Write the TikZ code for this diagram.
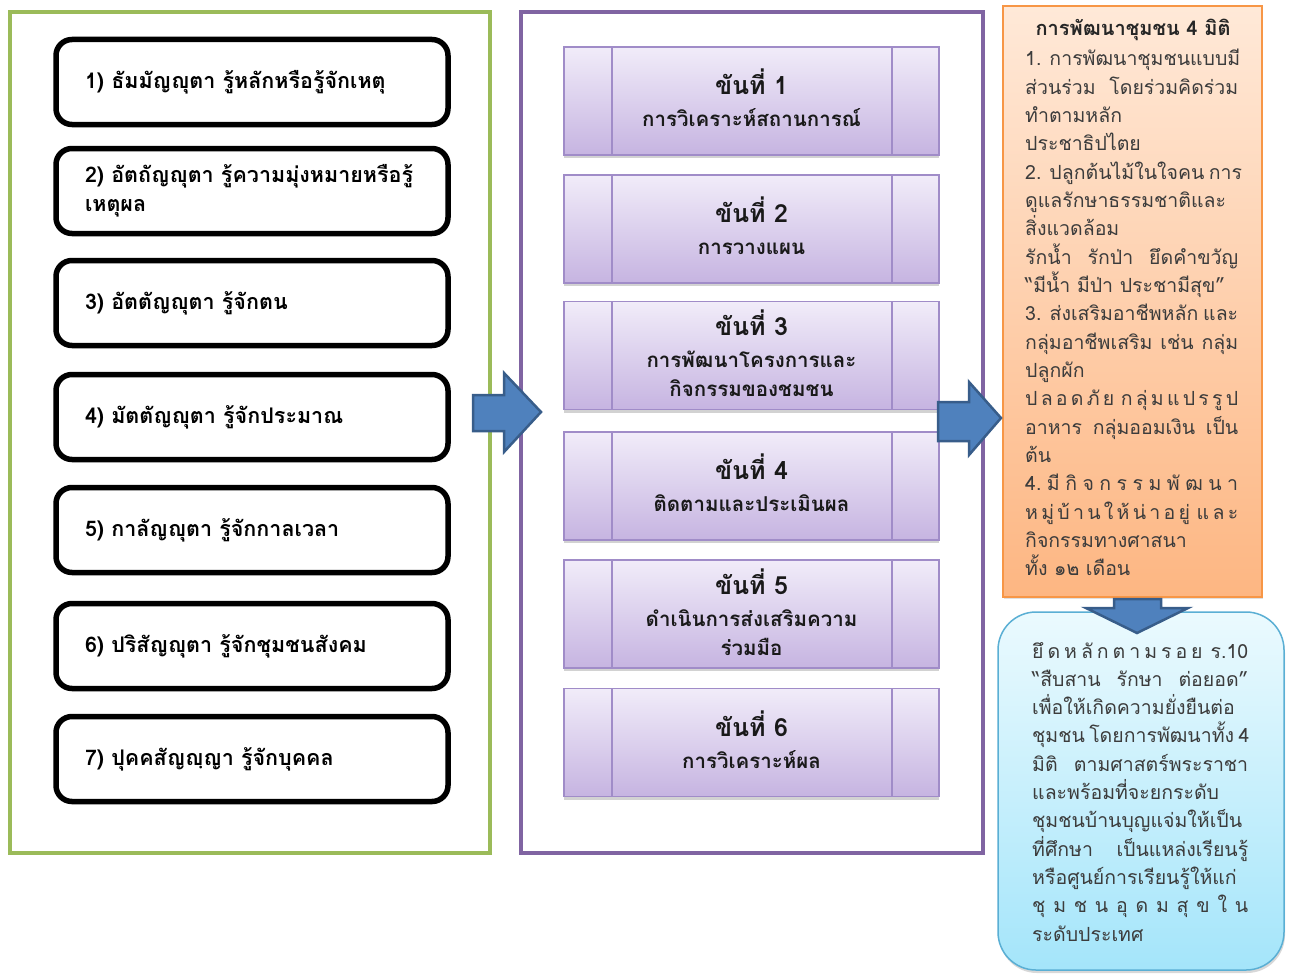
\documentclass[tikz,border=0pt]{standalone}
\usepackage{fontspec}
\setmainfont[Script=Thai]{Loma}
\usetikzlibrary{shadows}
\definecolor{gfr}{HTML}{9BBB59}
\definecolor{pfr}{HTML}{8064A2}
\definecolor{arrf}{HTML}{4F81BD}
\definecolor{arrd}{HTML}{385D8A}
\definecolor{stepbd}{HTML}{A08CC8}
\definecolor{steptop}{HTML}{F1ECF9}
\definecolor{stepbot}{HTML}{C6B4E1}
\definecolor{orbd}{HTML}{F79646}
\definecolor{ortop}{HTML}{FFE9D8}
\definecolor{orbot}{HTML}{FDB682}
\definecolor{blbd}{HTML}{5AAFD4}
\definecolor{bltop}{HTML}{EBFAFE}
\definecolor{blbot}{HTML}{A4E5FA}
\definecolor{txt}{HTML}{3C3C3C}
\newcommand{\Jo}[1]{\makebox[213pt][s]{#1}}
\newcommand{\Jb}[1]{\makebox[216pt][s]{#1}}
\begin{document}
\begin{tikzpicture}[x=1pt,y=-1pt,
  leftbox/.style={draw=black, line width=5.5pt, rounded corners=16pt, fill=white,
    minimum width=392pt, minimum height=85pt, text width=334pt, inner xsep=29pt,
    inner ysep=0pt, outer sep=0pt, align=left, font=\bfseries\fontsize{21.5}{29}\selectfont},
  stepbox/.style={draw=stepbd, line width=1.5pt, top color=steptop, bottom color=stepbot,
    minimum width=375pt, minimum height=108pt, inner sep=0pt, outer sep=0pt,
    drop shadow={shadow xshift=0pt, shadow yshift=-3pt, opacity=0.35}},
  steptext/.style={inner sep=0pt, align=center, text=black!90,
    font=\bfseries\fontsize{20.5}{29}\selectfont},
  stepline/.style={draw=stepbd, line width=1.5pt},
  frame/.style={line width=4pt, inner sep=0pt, outer sep=0pt},
  blockarrow/.style={fill=arrf, draw=arrd, line width=2.5pt, line join=miter},
  obox/.style={draw=orbd, line width=1.5pt, top color=ortop, bottom color=orbot,
    minimum width=259pt, minimum height=591pt, inner sep=0pt, outer sep=0pt,
    drop shadow={shadow xshift=1pt, shadow yshift=-2pt, opacity=0.25}},
  bbox/.style={draw=blbd, line width=1.5pt, top color=bltop, bottom color=blbot,
    rounded corners=38pt, minimum width=286pt, minimum height=358pt, inner sep=0pt, outer sep=0pt,
    drop shadow={shadow xshift=1pt, shadow yshift=-3pt, opacity=0.3}},
  tline/.style={anchor=base west, inner sep=0pt, font=\fontsize{19.5}{22}\selectfont, text=txt},
  ttitle/.style={anchor=base, inner sep=0pt, font=\bfseries\fontsize{20}{22}\selectfont, text=black!85}
]
\useasboundingbox (0,0) rectangle (1297,974);
\fill[white] (0,0) rectangle (1297,974);

% frames
\node[frame, draw=gfr, minimum width=480pt, minimum height=841pt] (gframe) at (250,432.5) {};
\node[frame, draw=pfr, minimum width=462pt, minimum height=841pt] (pframe) at (752,432.5) {};

% left boxes
\node[leftbox] (l1) at (252,82) {1) ธัมมัญญุตา รู้หลักหรือรู้จักเหตุ};
\node[leftbox] (l2) at (252,191) {2) อัตถัญญุตา รู้ความมุ่งหมายหรือรู้\\เหตุผล};
\node[leftbox] (l3) at (252,303) {3) อัตตัญญุตา รู้จักตน};
\node[leftbox] (l4) at (252,417) {4) มัตตัญญุตา รู้จักประมาณ};
\node[leftbox] (l5) at (252,530) {5) กาลัญญุตา รู้จักกาลเวลา};
\node[leftbox] (l6) at (252,646) {6) ปริสัญญุตา รู้จักชุมชนสังคม};
\node[leftbox] (l7) at (252,759) {7) ปุคคสัญญฺญา รู้จักบุคคล};

% step boxes
\newcommand{\steptitle}[1]{{\bfseries\fontsize{25}{29}\selectfont #1}\\[3pt]}
\foreach \i/\y in {1/101,2/229,3/355.5,4/486,5/614,6/742.5}{
  \node[stepbox] (s\i) at (751.5,\y) {};
  \draw[stepline] ([xshift=48pt]s\i.north west) -- ([xshift=48pt]s\i.south west);
  \draw[stepline] ([xshift=-47pt]s\i.north east) -- ([xshift=-47pt]s\i.south east);
}
\node[steptext] (t1) at ([yshift=3pt]s1.center) {\steptitle{ขันที่ 1}การวิเคราะห์สถานการณ์};
\node[steptext] (t2) at ([yshift=3pt]s2.center) {\steptitle{ขันที่ 2}การวางแผน};
\node[steptext] (t3) at ([yshift=2pt]s3.center) {\steptitle{ขันที่ 3}การพัฒนาโครงการและ\\กิจกรรมของชมชน};
\node[steptext] (t4) at ([yshift=3pt]s4.center) {\steptitle{ขันที่ 4}ติดตามและประเมินผล};
\node[steptext] (t5) at ([yshift=2pt]s5.center) {\steptitle{ขันที่ 5}ดำเนินการส่งเสริมความ\\ร่วมมือ};
\node[steptext] (t6) at ([yshift=3pt]s6.center) {\steptitle{ขันที่ 6}การวิเคราะห์ผล};

% orange box
\node[obox] (ob) at (1132.5,301.5) {};
\node[ttitle] (ot) at (1133,36) {การพัฒนาชุมชน 4 มิติ};
\foreach \t [count=\i] in {
  {\Jo{1. การพัฒนาชุมชนแบบมี}},
  {\Jo{ส่วนร่วม โดยร่วมคิดร่วม}},
  {ทำตามหลัก},
  {ประชาธิปไตย},
  {\Jo{2. ปลูกต้นไม้ในใจคน การ}},
  {\Jo{ดูแลรักษาธรรมชาติและ}},
  {สิ่งแวดล้อม},
  {\Jo{รักน้ำ รักป่า ยึดคำขวัญ}},
  {“มีน้ำ มีป่า ประชามีสุข”},
  {\Jo{3. ส่งเสริมอาชีพหลัก และ}},
  {\Jo{กลุ่มอาชีพเสริม เช่น กลุ่ม}},
  {ปลูกผัก},
  {\Jo{ป\hfill ล\hfill อ\hfill ด\hfill ภั\hfill ย\hfill\hfill ก\hfill ลุ่\hfill ม\hfill แ\hfill ป\hfill ร\hfill รู\hfill ป}},
  {\Jo{อาหาร กลุ่มออมเงิน เป็น}},
  {ต้น},
  {\Jo{4.\hfill มี\hfill กิ\hfill จ\hfill ก\hfill ร\hfill ร\hfill ม\hfill พั\hfill ฒ\hfill น\hfill า}},
  {\Jo{ห\hfill มู่\hfill บ้\hfill า\hfill น\hfill ใ\hfill ห้\hfill น่\hfill า\hfill อ\hfill ยู่\hfill\hfill แ\hfill ล\hfill ะ}},
  {กิจกรรมทางศาสนา},
  {ทั้ง ๑๒ เดือน}}
  \node[tline] (o\i) at (1025,{66+28.33*(\i-1)}) {\t};

% blue box
\node[bbox] (bb) at (1141,791) {};
\foreach \t [count=\i] in {
  {\Jb{ยึ\hfill ด\hfill ห\hfill ลั\hfill ก\hfill ต\hfill า\hfill ม\hfill ร\hfill อ\hfill ย\hfill\hfill ร.10}},
  {\Jb{“สืบสาน รักษา ต่อยอด”}},
  {\Jb{เพื่อให้เกิดความยั่งยืนต่อ}},
  {\Jb{ชุมชน โดยการพัฒนาทั้ง 4}},
  {\Jb{มิติ ตามศาสตร์พระราชา}},
  {\Jb{และพร้อมที่จะยกระดับ}},
  {\Jb{ชุมชนบ้านบุญแจ่มให้เป็น}},
  {\Jb{ที่ศึกษา เป็นแหล่งเรียนรู้}},
  {\Jb{หรือศูนย์การเรียนรู้ให้แก่}},
  {\Jb{ชุ\hfill ม\hfill ช\hfill น\hfill อุ\hfill ด\hfill ม\hfill สุ\hfill ข\hfill ใ\hfill น}},
  {ระดับประเทศ}}
  \node[tline] (b\i) at (1032,{658+28.3*(\i-1)}) {\t};

% block arrows
\draw[blockarrow] (473,395) -- (504,395) -- (504,373) -- (541,412) -- (504,452) -- (504,431) -- (473,431) -- cycle;
\draw[blockarrow] (938,402) -- (969,402) -- (969,382) -- (1001,418) -- (969,455) -- (969,441) -- (938,441) -- cycle;
\draw[blockarrow] (1114,599) -- (1161,599) -- (1161,608) -- (1188,608) -- (1137,633) -- (1086,608) -- (1114,608) -- cycle;
\end{tikzpicture}
\end{document}
